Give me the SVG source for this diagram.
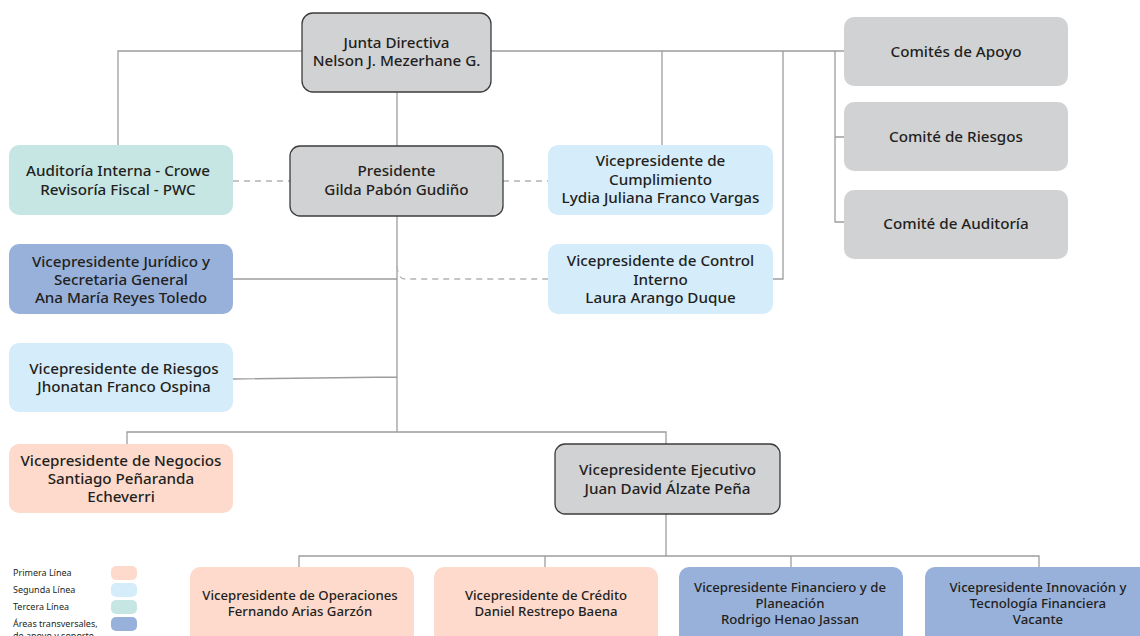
<svg xmlns="http://www.w3.org/2000/svg" width="1140" height="636" viewBox="0 0 1140 636">
<style>
text{font-family:"Noto Sans","Liberation Sans",sans-serif;fill:#231f20;text-anchor:middle;font-size:15.2px;font-weight:500}
.sm{font-size:13.2px}
.lg{font-size:9px;text-anchor:start;font-weight:400}
.gray{fill:#d1d2d4}
.str{stroke:#3c3c3c;stroke-width:1.3}
.p1{fill:#fddacb}.p2{fill:#d5ecfa}.p3{fill:#c6e6e3}.p4{fill:#97b1db}
.ln{fill:none;stroke:#9d9d9d;stroke-width:1.3}
.ds{fill:none;stroke:#b3b3b3;stroke-width:1.3;stroke-dasharray:6 5}
</style>
<rect width="1140" height="636" fill="#fff"/>
<g id="connectors">
<path class="ln" d="M118 145V51H302M491 51H844M662 51V145M783 51V279H773M835 51V222H844M835 137H844"/>
<path class="ln" d="M397 92V146M397 216V432M233 279H397M233 379L397 377M127 444V432H666V444M666 514V556M299 567V556H1039V567M545 556V567M791 556V567"/>
<path class="ds" d="M233 181H290M503 181H548M397 266Q398 279 405 279H548"/>
</g>
<g id="junta"><rect class="gray str" x="302" y="13" width="189" height="79" rx="11"/><text x="396.5" y="48">Junta Directiva</text><text x="396.5" y="66">Nelson J. Mezerhane G.</text></g>
<g id="presidente"><rect class="gray str" x="290" y="146" width="213" height="70" rx="10"/><text x="396.5" y="176">Presidente</text><text x="396.5" y="195">Gilda Pabón Gudiño</text></g>
<g id="auditoria"><rect class="p3" x="9" y="145" width="224" height="70" rx="10"/><text x="118" y="176">Auditoría Interna - Crowe</text><text x="118" y="195">Revisoría Fiscal - PWC</text></g>
<g id="cumplimiento"><rect class="p2" x="548" y="145" width="225" height="70" rx="10"/><text x="660.5" y="166">Vicepresidente de</text><text x="660.5" y="185">Cumplimiento</text><text x="660.5" y="203">Lydia Juliana Franco Vargas</text></g>
<g id="control"><rect class="p2" x="548" y="244" width="225" height="70" rx="10"/><text x="660.5" y="266">Vicepresidente de Control</text><text x="660.5" y="285">Interno</text><text x="660.5" y="303">Laura Arango Duque</text></g>
<g id="comites-apoyo"><rect class="gray" x="844" y="17" width="224" height="69" rx="10"/><text x="956" y="57">Comités de Apoyo</text></g>
<g id="comite-riesgos"><rect class="gray" x="844" y="102" width="224" height="69" rx="10"/><text x="956" y="142">Comité de Riesgos</text></g>
<g id="comite-auditoria"><rect class="gray" x="844" y="190" width="224" height="69" rx="10"/><text x="956" y="229">Comité de Auditoría</text></g>
<g id="juridico"><rect class="p4" x="9" y="244" width="224" height="70" rx="10"/><text x="121" y="267">Vicepresidente Jurídico y</text><text x="121" y="285">Secretaria General</text><text x="121" y="303">Ana María Reyes Toledo</text></g>
<g id="riesgos"><rect class="p2" x="9" y="343" width="224" height="69" rx="10"/><text x="124" y="374">Vicepresidente de Riesgos</text><text x="124" y="392">Jhonatan Franco Ospina</text></g>
<g id="negocios"><rect class="p1" x="9" y="444" width="224" height="69" rx="10"/><text x="121" y="466">Vicepresidente de Negocios</text><text x="121" y="484">Santiago Peñaranda</text><text x="121" y="502">Echeverri</text></g>
<g id="ejecutivo"><rect class="gray str" x="555" y="444" width="225" height="70" rx="10"/><text x="667.5" y="475">Vicepresidente Ejecutivo</text><text x="667.5" y="494">Juan David Álzate Peña</text></g>
<g id="operaciones"><rect class="p1" x="190" y="567" width="224" height="80" rx="10"/><text class="sm" x="300" y="600">Vicepresidente de Operaciones</text><text class="sm" x="300" y="616">Fernando Arias Garzón</text></g>
<g id="credito"><rect class="p1" x="434" y="567" width="224" height="80" rx="10"/><text class="sm" x="546" y="600">Vicepresidente de Crédito</text><text class="sm" x="546" y="616">Daniel Restrepo Baena</text></g>
<g id="financiero"><rect class="p4" x="679" y="567" width="224" height="80" rx="10"/><text class="sm" x="790" y="592">Vicepresidente Financiero y de</text><text class="sm" x="790" y="608">Planeación</text><text class="sm" x="790" y="624">Rodrigo Henao Jassan</text></g>
<g id="innovacion"><rect class="p4" x="925" y="567" width="224" height="80" rx="10"/><text class="sm" x="1038" y="592">Vicepresidente Innovación y</text><text class="sm" x="1038" y="608">Tecnología Financiera</text><text class="sm" x="1038" y="624">Vacante</text></g>
<g id="legend">
<text class="lg" x="13" y="576">Primera Línea</text><rect class="p1" x="111" y="566" width="26" height="14" rx="5"/>
<text class="lg" x="13" y="593">Segunda Línea</text><rect class="p2" x="111" y="583" width="26" height="14" rx="5"/>
<text class="lg" x="13" y="610">Tercera Línea</text><rect class="p3" x="111" y="600" width="26" height="14" rx="5"/>
<text class="lg" x="13" y="627">Áreas transversales,</text><rect class="p4" x="111" y="617" width="26" height="14" rx="5"/>
<text class="lg" x="13" y="639">de apoyo y soporte</text>
</g>
</svg>
